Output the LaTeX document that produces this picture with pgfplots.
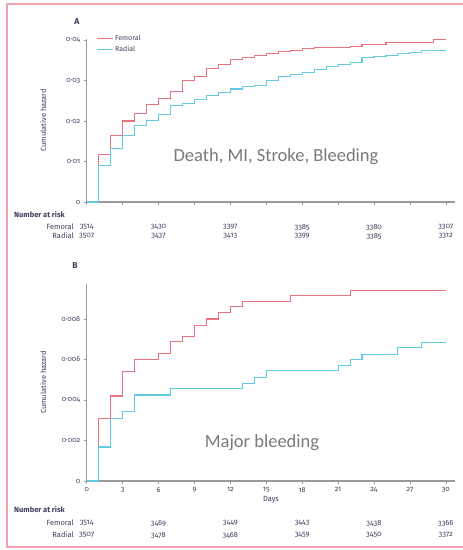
\documentclass[border=0pt]{standalone}
\usepackage{fontspec}
\setmainfont{Fira Sans}[Numbers=OldStyle]
\newfontfamily\annofont{Carlito}
\usepackage{pgfplots}
\pgfplotsset{compat=1.18}
\definecolor{fem}{HTML}{E8737F}
\definecolor{rad}{HTML}{62CBE3}
\definecolor{frame}{HTML}{F2A3B2}
\definecolor{txt}{HTML}{3E4060}
\definecolor{axl}{HTML}{9A9A9A}
\definecolor{anno}{HTML}{7A7A7A}
\pgfplotsset{
  kmstyle/.style={
    scale only axis,
    width=368.7pt,
    xmin=0, xmax=30.8,
    ymin=0,
    axis lines*=left,
    axis line style={-, axl, line width=1.2pt},
    tick style={axl, line width=0.6pt},
    tick align=outside,
    major tick length=3pt,
    xtick={0,3,...,30},
    scaled y ticks=false,
    /pgf/number format/assume math mode=true,
    tick label style={font=\fontsize{7.2}{8}\selectfont, text=txt},
    label style={font=\fontsize{7.5}{8}\selectfont, text=txt},
    ylabel style={at={(axis description cs:-0.1,0.5)}, anchor=south},
    clip=false,
  }
}
\begin{document}
\begin{tikzpicture}[x=1pt,y=1pt]
\useasboundingbox (0,0) rectangle (463,550);
\fill[white] (0,0) rectangle (463,550);
\draw[frame, line width=1.6pt] (7,3) rectangle (475,546);

% Panel A
\begin{axis}[kmstyle,
  at={(86.7pt,348pt)}, anchor=south west,
  height=163.2pt,
  ymax=0.0403,
  ytick={0,0.01,0.02,0.03,0.04},
  yticklabels={0,0·01,0·02,0·03,0·04},
  xticklabels={},
  ylabel={Cumulative hazard},
  legend style={at={(axis description cs:0.025,1.035)}, anchor=north west, draw=none, fill=none,
    font=\fontsize{7}{8}\selectfont, text=txt, row sep=0pt, inner sep=0pt},
  legend cell align=left,
  legend image code/.code={\draw[#1] (0pt,0pt) -- (16pt,0pt);},
]
\addplot[fem, line width=1.1pt, const plot] coordinates {
(0,0) (1,0.0118) (2,0.0165) (3,0.0200) (4,0.0219) (5,0.0241) (6,0.0255) (7,0.0272)
(8,0.0299) (9,0.0311) (10,0.0329) (11,0.0339) (12,0.0351) (13,0.0357) (14,0.0362)
(15,0.0367) (16,0.0371) (17,0.0375) (18,0.0379) (19,0.0382) (22,0.0385) (23,0.0389)
(25,0.0394) (29,0.0402) (30,0.0402)};
\addlegendentry{Femoral}
\addplot[rad, line width=1.1pt, const plot] coordinates {
(0,0) (1,0.0090) (2,0.0133) (3,0.0165) (4,0.0189) (5,0.0201) (6,0.0215) (7,0.0238)
(8,0.0243) (9,0.0254) (10,0.0263) (11,0.0270) (12,0.0279) (13,0.0285) (14,0.0287)
(15,0.0299) (16,0.0309) (17,0.0314) (18,0.0319) (19,0.0327) (20,0.0334) (21,0.0340)
(22,0.0345) (23,0.0356) (24,0.0359) (25,0.0361) (26,0.0367) (27,0.0369) (28,0.0373)
(29,0.0375) (30,0.0375)};
\addlegendentry{Radial}
\end{axis}

% Panel B
\begin{axis}[kmstyle,
  at={(86.7pt,69pt)}, anchor=south west,
  height=197pt,
  ymax=0.00973,
  ytick={0,0.002,0.004,0.006,0.008},
  yticklabels={0,0·002,0·004,0·006,0·008},
  xlabel={Days},
  xlabel style={yshift=3pt},
  ylabel={Cumulative hazard},
]
\addplot[fem, line width=1.1pt, const plot] coordinates {
(0,0) (1,0.0031) (2,0.0042) (3,0.0054) (4,0.0060) (6,0.0063) (7,0.0069) (8,0.00713)
(9,0.0077) (10,0.0080) (11,0.0083) (12,0.0086) (13,0.00886) (17,0.00914) (22,0.00942)
(30,0.00942)};
\addplot[rad, line width=1.1pt, const plot] coordinates {
(0,0) (1,0.00168) (2,0.0031) (3,0.00342) (4,0.00425) (7,0.00456) (13,0.00482)
(14,0.0051) (15,0.00545) (21,0.00571) (22,0.00598) (23,0.00627) (26,0.00658)
(28,0.00683) (30,0.00683)};
\end{axis}

% Panel labels and annotations
\node[font=\fontsize{8.5}{9}\selectfont\bfseries, text=txt] at (77,528) {A};
\node[font=\fontsize{8.5}{9}\selectfont\bfseries, text=txt] at (75,284) {B};
\node[font=\annofont\fontsize{18.5}{20}\selectfont, text=anno] at (276,393) {Death, MI, Stroke, Bleeding};
\node[font=\annofont\fontsize{18.5}{20}\selectfont, text=anno] at (262,107) {Major bleeding};

% Number at risk tables
\begin{scope}[every node/.style={font=\fontsize{7.5}{8}\selectfont, text=txt, inner sep=0pt}]
\node[anchor=west, font=\fontsize{7.5}{8}\selectfont\bfseries] at (14,335) {Number at risk};
\node[anchor=east] at (74,323) {Femoral};
\node[anchor=east] at (74,314) {Radial};
\foreach \v [count=\i from 0] in {3514,3430,3397,3385,3380,3307}
  \node at (86.7+71.82*\i,323) {\v};
\foreach \v [count=\i from 0] in {3507,3437,3413,3399,3385,3312}
  \node at (86.7+71.82*\i,314) {\v};

\node[anchor=west, font=\fontsize{7.5}{8}\selectfont\bfseries] at (14,40) {Number at risk};
\node[anchor=east] at (74,27) {Femoral};
\node[anchor=east] at (74,15) {Radial};
\foreach \v [count=\i from 0] in {3514,3469,3449,3443,3438,3366}
  \node at (86.7+71.82*\i,27) {\v};
\foreach \v [count=\i from 0] in {3507,3478,3468,3459,3450,3372}
  \node at (86.7+71.82*\i,15) {\v};
\end{scope}
\end{tikzpicture}
\end{document}
